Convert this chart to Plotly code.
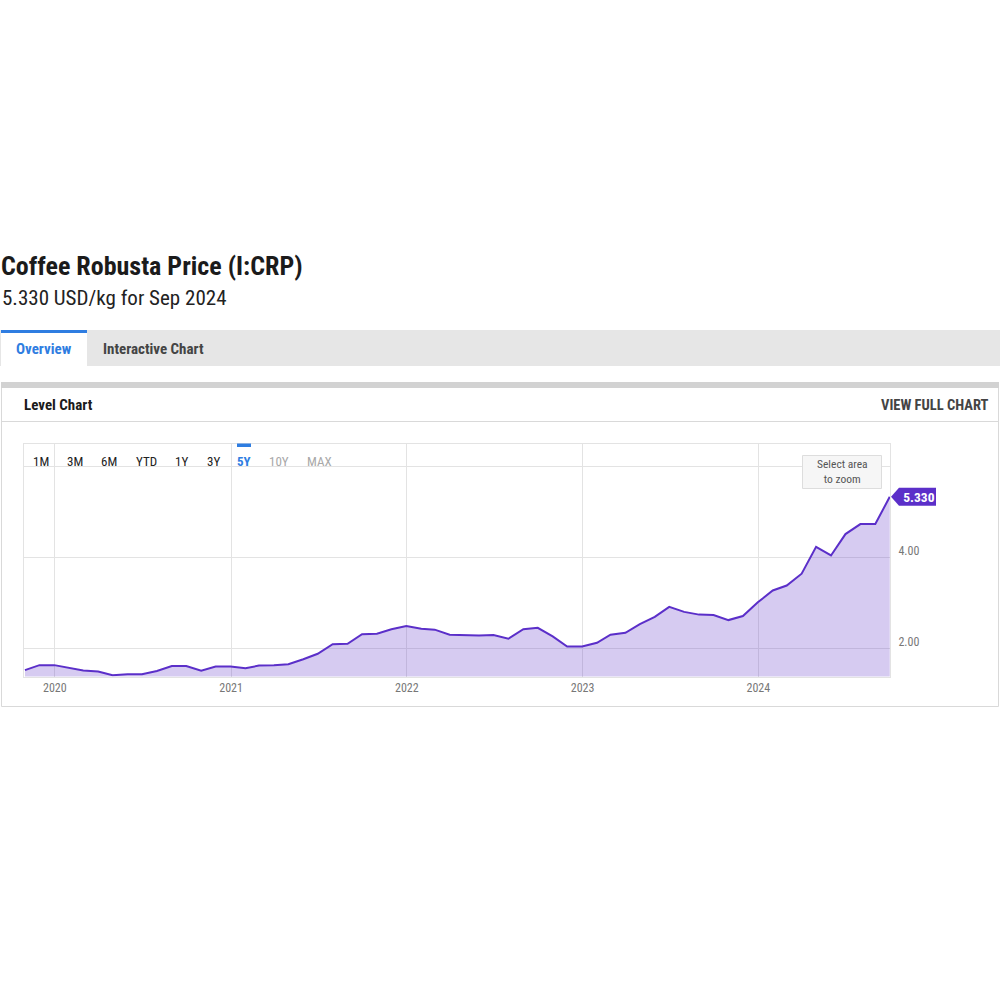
import plotly.graph_objects as go
import pandas as pd

# ---------------- data ----------------
months = [
    "2019-10", "2019-11", "2019-12",
    "2020-01", "2020-02", "2020-03", "2020-04", "2020-05", "2020-06",
    "2020-07", "2020-08", "2020-09", "2020-10", "2020-11", "2020-12",
    "2021-01", "2021-02", "2021-03", "2021-04", "2021-05", "2021-06",
    "2021-07", "2021-08", "2021-09", "2021-10", "2021-11", "2021-12",
    "2022-01", "2022-02", "2022-03", "2022-04", "2022-05", "2022-06",
    "2022-07", "2022-08", "2022-09", "2022-10", "2022-11", "2022-12",
    "2023-01", "2023-02", "2023-03", "2023-04", "2023-05", "2023-06",
    "2023-07", "2023-08", "2023-09", "2023-10", "2023-11", "2023-12",
    "2024-01", "2024-02", "2024-03", "2024-04", "2024-05", "2024-06",
    "2024-07", "2024-08", "2024-09",
]
price_usd_kg = [
    1.52, 1.63, 1.63,
    1.57, 1.51, 1.49, 1.41, 1.43, 1.43,
    1.50, 1.61, 1.61, 1.51, 1.60, 1.60,
    1.56, 1.62, 1.63, 1.65, 1.76, 1.88,
    2.09, 2.10, 2.31, 2.32, 2.42, 2.49,
    2.43, 2.41, 2.30, 2.29, 2.28, 2.29,
    2.21, 2.42, 2.45, 2.26, 2.04, 2.04,
    2.12, 2.30, 2.34, 2.53, 2.69, 2.91,
    2.80, 2.74, 2.73, 2.62, 2.71, 3.01,
    3.27, 3.38, 3.64, 4.23, 4.04, 4.51,
    4.73, 4.73, 5.33,
]
year_ticks = ["2020-01-01", "2021-01-01", "2022-01-01", "2023-01-01", "2024-01-01"]
year_labels = ["2020", "2021", "2022", "2023", "2024"]
y_tickvals = [2, 4, 6]
y_ticktext = ["2.00", "4.00", ""]
range_buttons = ["1M", "3M", "6M", "YTD", "1Y", "3Y", "5Y", "10Y", "MAX"]

title_text = "Coffee Robusta Price (I:CRP)"
subtitle_text = "5.330 USD/kg for Sep 2024"

dates = pd.to_datetime(months) + pd.offsets.MonthEnd(0)

# ---------------- styles ----------------
LINE = "#5b2fc9"
FILL = "rgba(91,47,201,0.25)"
COND = "Roboto Condensed, Liberation Sans Narrow, Arial Narrow, DejaVu Sans Condensed, Roboto, sans-serif"
BASE = "Roboto, sans-serif"
BLUE = "#2f7de1"
X_DOMAIN = [0.024, 0.890]
Y_DOMAIN = [1 - 0.6765, 1 - 0.444]


def px(x):
    return x / 1000.0


def py(y):
    return 1 - y / 1000.0


fig = go.Figure()
fig.add_trace(go.Scatter(
    x=dates, y=price_usd_kg, mode="lines",
    line=dict(color=LINE, width=2),
    fill="tozeroy", fillcolor=FILL,
    hoverinfo="skip", showlegend=False,
))

shapes = []
# tab bar
shapes.append(dict(type="rect", xref="paper", yref="paper", x0=0, x1=1,
                   y0=py(366), y1=py(330), fillcolor="#e6e6e6", line_width=0, layer="below"))
shapes.append(dict(type="rect", xref="paper", yref="paper", x0=px(1), x1=px(87),
                   y0=py(366), y1=py(333), fillcolor="#ffffff", line_width=0, layer="below"))
shapes.append(dict(type="rect", xref="paper", yref="paper", x0=px(1), x1=px(87),
                   y0=py(333), y1=py(330), fillcolor=BLUE, line_width=0, layer="below"))
# card
shapes.append(dict(type="rect", xref="paper", yref="paper", x0=px(1.5), x1=px(998.5),
                   y0=py(706.5), y1=py(385), fillcolor="rgba(0,0,0,0)",
                   line=dict(color="#d9d9d9", width=1), layer="below"))
shapes.append(dict(type="rect", xref="paper", yref="paper", x0=px(1), x1=px(999),
                   y0=py(388), y1=py(382), fillcolor="#d2d2d2", line_width=0, layer="below"))
shapes.append(dict(type="line", xref="paper", yref="paper", x0=px(1.5), x1=px(998.5),
                   y0=py(421.5), y1=py(421.5), line=dict(color="#d9d9d9", width=1), layer="below"))
# 5Y indicator
shapes.append(dict(type="rect", xref="paper", yref="paper", x0=px(237), x1=px(251),
                   y0=py(447), y1=py(443.5), fillcolor=BLUE, line_width=0))
# select area box
shapes.append(dict(type="rect", xref="paper", yref="paper", x0=px(802.5), x1=px(881.5),
                   y0=py(488.5), y1=py(455.5), fillcolor="#f6f6f6",
                   line=dict(color="#dddddd", width=1)))
# last value tag: anchored at the right edge of the plot, at the last value
shapes.append(dict(type="path", xref="paper", yref="y", xsizemode="pixel", ysizemode="pixel",
                   xanchor=X_DOMAIN[1], yanchor=price_usd_kg[-1],
                   path="M 1,0 L 9,9 L 46,9 L 46,-9 L 9,-9 Z",
                   fillcolor=LINE, line_width=0, layer="above"))

annotations = []
annotations.append(dict(text="<b>" + title_text + "</b>", x=px(-1), y=py(266), xref="paper", yref="paper",
                        xanchor="left", yanchor="middle", showarrow=False,
                        font=dict(family=COND, size=26, color="#1b1b1b")))
annotations.append(dict(text=subtitle_text, x=px(0), y=py(298), xref="paper", yref="paper",
                        xanchor="left", yanchor="middle", showarrow=False,
                        font=dict(family=COND, size=21, color="#222222")))
annotations.append(dict(text="<b>Overview</b>", x=px(44), y=py(349), xref="paper", yref="paper",
                        xanchor="center", yanchor="middle", showarrow=False,
                        font=dict(family=COND, size=15, color=BLUE)))
annotations.append(dict(text="<b>Interactive Chart</b>", x=px(153), y=py(349), xref="paper", yref="paper",
                        xanchor="center", yanchor="middle", showarrow=False,
                        font=dict(family=COND, size=15, color="#444444")))
annotations.append(dict(text="<b>Level Chart</b>", x=px(22), y=py(405), xref="paper", yref="paper",
                        xanchor="left", yanchor="middle", showarrow=False,
                        font=dict(family=COND, size=15, color="#1b1b1b")))
annotations.append(dict(text="<b>VIEW FULL CHART</b>", x=px(991), y=py(405), xref="paper", yref="paper",
                        xanchor="right", yanchor="middle", showarrow=False,
                        font=dict(family=COND, size=14.5, color="#444444")))
btn_x = [41, 75, 109, 146, 181, 213, 244, 279, 319]
for label, bx in zip(range_buttons, btn_x):
    if label == "5Y":
        col, txt = BLUE, "<b>5Y</b>"
    elif label in ("10Y", "MAX"):
        col, txt = "#a8a8a8", label
    else:
        col, txt = "#222222", label
    annotations.append(dict(text=txt, x=px(bx), y=py(461), xref="paper", yref="paper",
                            xanchor="center", yanchor="middle", showarrow=False,
                            font=dict(family=COND, size=13, color=col)))
annotations.append(dict(text="Select area<br>to zoom", x=px(842), y=py(471.5), xref="paper", yref="paper",
                        xanchor="center", yanchor="middle", showarrow=False,
                        font=dict(family=COND, size=11.5, color="#555555")))
annotations.append(dict(text="<b>%.3f</b>" % price_usd_kg[-1], x=X_DOMAIN[1], y=price_usd_kg[-1],
                        xref="paper", yref="y", xanchor="left", yanchor="middle", xshift=8,
                        width=38, align="center",
                        showarrow=False, font=dict(family=COND, size=13.5, color="#ffffff")))

fig.update_layout(
    width=1000, height=1000,
    margin=dict(l=0, r=0, t=0, b=0, pad=0),
    paper_bgcolor="#ffffff", plot_bgcolor="#ffffff",
    font=dict(family=BASE, color="#777777"),
    shapes=shapes, annotations=annotations,
    xaxis=dict(
        domain=X_DOMAIN, type="date",
        range=["2019-10-29", "2024-09-30 12:00"],
        tickvals=year_ticks, ticktext=year_labels,
        showgrid=True, gridcolor="#e3e3e3", gridwidth=1,
        showline=True, linecolor="#e3e3e3", mirror=True,
        ticks="", tickfont=dict(family=COND, size=12, color="#777777"),
        zeroline=False, fixedrange=True,
    ),
    yaxis=dict(
        domain=Y_DOMAIN, side="right",
        range=[1.38, 6.49],
        tickvals=y_tickvals, ticktext=y_ticktext,
        showgrid=True, gridcolor="#e3e3e3", gridwidth=1,
        showline=True, linecolor="#e3e3e3", mirror=True,
        ticks="", tickfont=dict(family=COND, size=12, color="#777777"),
        ticklabelshift=-6, ticklabelstandoff=5,
        zeroline=False, fixedrange=True,
    ),
)

fig.write_html("out.html", config={"displayModeBar": False})
